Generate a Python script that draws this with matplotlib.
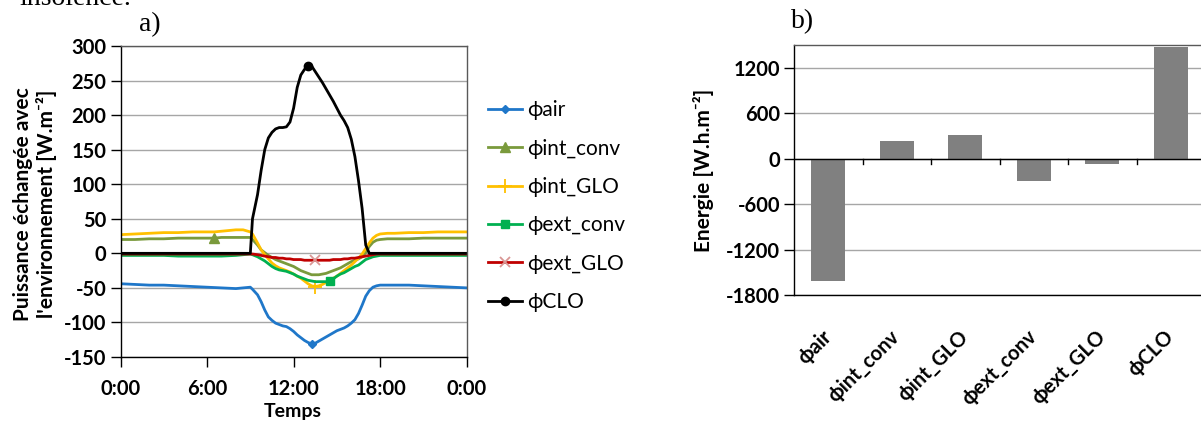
import matplotlib
matplotlib.use("Agg")
import matplotlib.pyplot as plt

# ---------------- data ----------------
hours = [0, 1, 2, 3, 4, 5, 6, 6.5, 7, 8, 8.5, 9, 9.15, 9.5, 9.75, 10, 10.25, 10.5, 10.75,
         11, 11.25, 11.5, 11.75, 12, 12.25, 12.5, 12.75, 13, 13.25, 13.5, 13.75,
         14, 14.25, 14.5, 14.75, 15, 15.25, 15.5, 15.75, 16, 16.25, 16.5, 16.75,
         17, 17.25, 17.5, 17.75, 18, 18.5, 19, 20, 21, 22, 23, 24]

phi_air = [-44, -45, -46, -46, -47, -48, -49, -49.5, -50, -51, -50, -49, -52, -60, -70,
           -82, -92, -97, -101, -103, -105, -106, -109, -113, -118, -122, -126, -129,
           -131, -130, -127, -124, -121, -118, -115, -112, -110, -108, -105, -101, -96,
           -87, -75, -62, -54, -49, -47, -46, -46, -46, -46, -47, -48, -49, -50]
phi_int_conv = [20, 20, 21, 21, 22, 22, 22, 22, 23, 23, 23, 23, 20, 12, 5, 1, -3, -6, -9,
                -11, -13, -15, -17, -19, -22, -25, -27, -29, -31, -31, -31, -30, -29,
                -27, -25, -23, -21, -18, -15, -12, -10, -8, -5, 1, 10, 16, 19, 20, 21,
                21, 21, 22, 22, 22, 22]
phi_int_GLO = [27, 28, 29, 30, 30, 31, 31, 31, 32, 34, 34, 31, 28, 15, 5, -2, -8, -14,
               -18, -21, -23, -25, -27, -30, -33, -36, -40, -44, -47, -48, -47, -45, -42,
               -39, -36, -33, -29, -25, -21, -17, -12, -7, -1, 7, 15, 22, 26, 28, 29,
               29, 30, 30, 31, 31, 31]
phi_ext_conv = [-3, -3, -3, -3, -4, -4, -4, -4, -4, -3, -2, -1, -2, -5, -8, -11, -15,
                -19, -22, -24, -25, -26, -28, -30, -33, -35, -37, -39, -40, -41, -41,
                -41, -41, -40, -37, -33, -30, -28, -25, -22, -19, -17, -13, -9, -7, -5,
                -4, -3, -3, -3, -3, -3, -3, -3, -3]
phi_ext_GLO = [-1, -1, -1, -1, -1, -1, -1, -1, -1, -1, -1, -1, -1, -2, -3, -4, -5, -6,
               -6, -7, -7, -8, -8, -9, -9, -9, -10, -10, -10, -10, -10, -10, -10, -10,
               -9, -9, -9, -8, -8, -7, -7, -6, -5, -4, -3, -2, -1, -1, -1, -1, -1, -1,
               -1, -1, -1]
phi_CLO = [0, 0, 0, 0, 0, 0, 0, 0, 0, 0, 0, 0, 50, 85, 120, 150, 167, 175, 180, 182,
           182, 183, 190, 210, 240, 258, 266, 271, 271, 263, 255, 247, 238, 229, 220,
           210, 200, 192, 182, 165, 140, 105, 65, 12, 0, 0, 0, 0, 0, 0, 0, 0, 0, 0, 0]

series_labels = ["ϕair", "ϕint_conv", "ϕint_GLO", "ϕext_conv", "ϕext_GLO", "ϕCLO"]
time_ticks = [0, 6, 12, 18, 24]
time_ticklabels = ["0:00", "6:00", "12:00", "18:00", "0:00"]
power_ticks = [-150, -100, -50, 0, 50, 100, 150, 200, 250, 300]

energy_categories = ["ϕair", "ϕint_conv", "ϕint_GLO", "ϕext_conv", "ϕext_GLO", "ϕCLO"]
energy_values = [-1615, 232, 314, -297, -70, 1471]
energy_ticks = [-1800, -1200, -600, 0, 600, 1200]

# ---------------- style ----------------
FONT = ["Lato", "DejaVu Sans"]
plt.rcParams["font.family"] = FONT
plt.rcParams["axes.unicode_minus"] = False
W, H = 1201, 421
fig = plt.figure(figsize=(W / 100, H / 100), dpi=100)


def fx(px):
    return px / W


def fy(py):
    return 1 - py / H


grid_c = "#A6A6A6"
axis_c = "#595959"
TS = 14.5  # tick label size

# ---------------- panel a ----------------
axa = fig.add_axes([fx(120.5), fy(357), fx(466.7 - 120.5), fy(46) - fy(357)])
styles = [
    (phi_air, "#1F77C9", "D", 4, 28),
    (phi_int_conv, "#7A9A3C", "^", 7, 7),
    (phi_int_GLO, "#FFC000", "+", 10, 29),
    (phi_ext_conv, "#00B050", "s", 6, 33),
    (phi_ext_GLO, "#C00000", "x", 7, 29),
    (phi_CLO, "#000000", "o", 6, 27),
]
mk_face = {"x": "#D99694"}
for (vals, col, mk, ms, mi), lab in zip(styles, series_labels):
    mcol = mk_face.get(mk, col)
    axa.plot(hours, vals, color=col, lw=2.0, marker=mk, ms=ms, markevery=[mi],
             mfc=mcol, mec=mcol, mew=1.3 if mk in "+x" else 1, label=lab,
             solid_joinstyle="round")

axa.set_xlim(0, 24)
axa.set_ylim(-150, 300)
axa.set_xticks(time_ticks)
axa.set_xticklabels(time_ticklabels)
axa.set_yticks(power_ticks)
axa.yaxis.grid(True, color=grid_c, lw=1)
axa.set_axisbelow(True)
for s in ["left", "bottom"]:
    axa.spines[s].set_color("#000000")
    axa.spines[s].set_linewidth(1.0)
for s in ["top", "right"]:
    axa.spines[s].set_color(axis_c)
    axa.spines[s].set_linewidth(1.0)
axa.tick_params(axis="both", direction="out", length=7, width=1, color="#000000",
                labelsize=TS)
axa.tick_params(axis="x", pad=9)
axa.tick_params(axis="y", pad=3)
for t in axa.get_xticklabels() + axa.get_yticklabels():
    t.set_fontweight("bold")
fig.text(fx(293), fy(411), "Temps", fontsize=14, fontweight="bold",
         ha="center", va="center")
fig.text(fx(35), fy(204), "Puissance échangée avec\nl'environnement [W.m⁻²]",
         fontsize=15, fontweight="bold", rotation=90, ha="center", va="center",
         multialignment="center", linespacing=1.2)

leg = axa.legend(loc="upper left", bbox_to_anchor=(1.038, 0.852), frameon=False,
                 fontsize=15, handlelength=1.6, handletextpad=0.25, labelspacing=0.88,
                 borderaxespad=0)

# ---------------- panel b ----------------
axb = fig.add_axes([fx(794), fy(295), fx(1205 - 794), fy(45) - fy(295)])
xpos = list(range(len(energy_categories)))
axb.bar(xpos, energy_values, width=0.5, color="#808080", zorder=2)
axb.set_xlim(-0.5, len(energy_categories) - 0.5)
axb.set_ylim(-1800, 1500)
axb.set_yticks(energy_ticks)
axb.yaxis.grid(True, color=grid_c, lw=1, zorder=0)
axb.set_axisbelow(True)
axb.axhline(0, color="#000000", lw=1.0, zorder=3)
# category boundary ticks on the zero line
for b in [i + 0.5 for i in xpos[:-1]]:
    axb.plot([b, b], [0, -0.022 * 3300], color="#000000", lw=1.0, zorder=3,
             clip_on=False)
axb.set_xticks(xpos)
axb.set_xticklabels(energy_categories, rotation=45, ha="right", va="center",
                    rotation_mode="anchor", fontsize=TS, fontweight="bold")
axb.tick_params(axis="x", length=0, pad=28)
axb.tick_params(axis="y", direction="out", length=7, width=1, color="#000000",
                labelsize=TS, pad=3)
for t in axb.get_yticklabels():
    t.set_fontweight("bold")
for s in axb.spines.values():
    s.set_color(axis_c)
    s.set_linewidth(1.0)
axb.spines["left"].set_color("#000000")
axb.spines["bottom"].set_color("#000000")
fig.text(fx(703), fy(170), "Energie [W.h.m⁻²]", fontsize=15, fontweight="bold",
         rotation=90, ha="center", va="center")

# ---------------- panel letters & cut text ----------------
fig.text(fx(139), fy(25), "a)", family="Liberation Serif", fontsize=20, va="center")
fig.text(fx(791), fy(22), "b)", family="Liberation Serif", fontsize=20, va="center")
fig.text(fx(131), fy(5), "insolence.", family="Liberation Serif", fontsize=20,
         ha="right", va="baseline")

fig.savefig("out.png", dpi=100)
